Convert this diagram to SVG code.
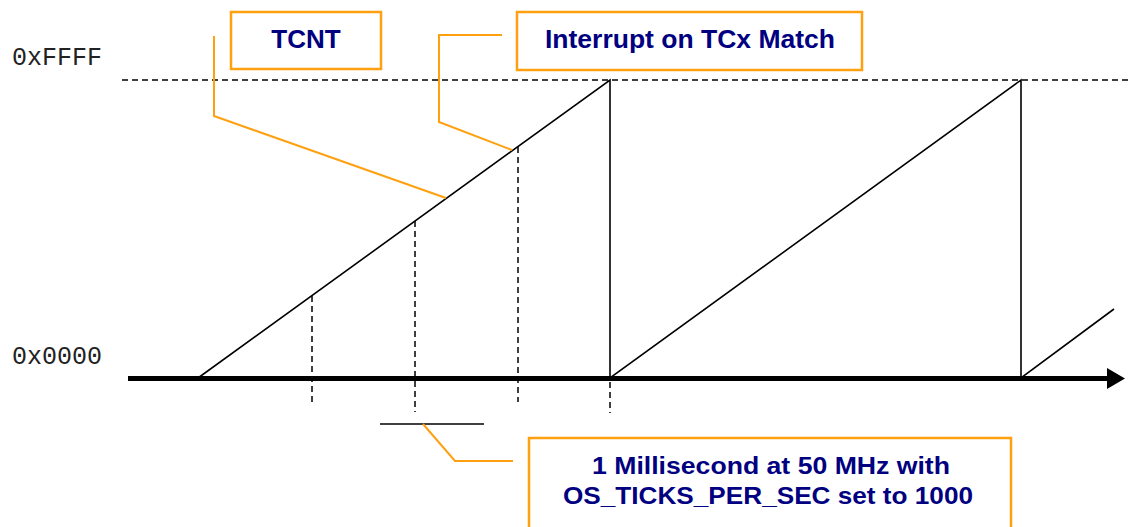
<svg xmlns="http://www.w3.org/2000/svg" width="1131" height="527" viewBox="0 0 1131 527">
<style>
.box{fill:#fff;stroke:#FFA010;stroke-width:2.5}
.lead{fill:none;stroke:#FFA010;stroke-width:2}
.lbl{font-family:"Liberation Sans",Arial,sans-serif;font-weight:bold;font-size:26px;fill:#000080;text-anchor:middle}
.mono{font-family:"Liberation Mono","Courier New",monospace;font-size:25px;fill:#222}
.ramp{fill:none;stroke:#000;stroke-width:1.6}
.dash{fill:none;stroke:#000;stroke-width:1.5;stroke-dasharray:6,4}
</style>
<rect width="1131" height="527" fill="#fff"/>
<g id="axis-labels">
<text class="mono" x="12" y="65">0xFFFF</text>
<text class="mono" x="12" y="364">0x0000</text>
</g>
<g id="chart">
<line class="dash" x1="122" y1="80" x2="1131" y2="80"/>
<line x1="128" y1="378.5" x2="1110" y2="378.5" stroke="#000" stroke-width="5"/>
<polygon points="1107,368 1125,378.5 1107,389" fill="#000"/>
<polyline class="ramp" points="198,378 610,80 610,378 1021,80 1021,378 1114,309"/>
<line class="dash" x1="312" y1="296" x2="312" y2="402"/>
<line class="dash" x1="415" y1="221" x2="415" y2="412"/>
<line class="dash" x1="518" y1="147" x2="518" y2="402"/>
<line class="dash" x1="610" y1="382" x2="610" y2="413"/>
<line x1="380" y1="424" x2="484" y2="424" stroke="#000" stroke-width="1.5"/>
</g>
<g id="connectors">
<polyline class="lead" points="214,36 214,116 446,198"/>
<polyline class="lead" points="502,35 439,35 439,122 512,150"/>
<polyline class="lead" points="423,424 455,461 513,461"/>
</g>
<g id="node-tcnt">
<rect class="box" x="231" y="12" width="150" height="57"/>
<text class="lbl" x="306" y="48">TCNT</text>
</g>
<g id="node-interrupt">
<rect class="box" x="517" y="12" width="345" height="58"/>
<text class="lbl" x="690" y="48" textLength="290" lengthAdjust="spacingAndGlyphs">Interrupt on TCx Match</text>
</g>
<g id="node-millisecond">
<rect class="box" x="529" y="438" width="482" height="100"/>
<text class="lbl" x="771" y="474" style="font-size:24px" textLength="358" lengthAdjust="spacingAndGlyphs">1 Millisecond at 50 MHz with</text>
<text class="lbl" x="768" y="504" style="font-size:24px" textLength="410" lengthAdjust="spacingAndGlyphs">OS_TICKS_PER_SEC set to 1000</text>
</g>
</svg>
